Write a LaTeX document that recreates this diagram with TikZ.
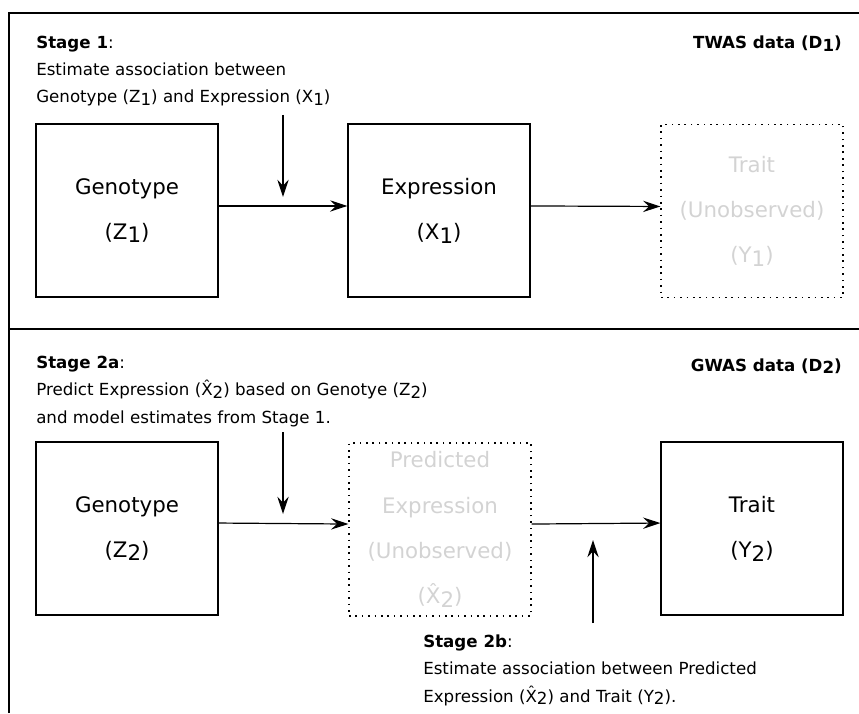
\documentclass[tikz,border=0pt]{standalone}
\usepackage{fontspec}
\setmainfont{DejaVu Sans}
\usetikzlibrary{arrows.meta, positioning}

\definecolor{unseen}{RGB}{211,211,211}
\newcommand{\lowsub}[1]{\raisebox{-0.3ex}{#1}}

\begin{document}
\begin{tikzpicture}[x=0.75pt, y=-0.75pt,
  box/.style = {draw, line width=0.9pt, inner sep=2pt, minimum width=136.5pt, minimum height=129.75pt,
                align=center, font=\fontsize{16}{34}\selectfont},
  hidden/.style = {box, dash pattern=on 1.2pt off 3.6pt, text=unseen},
  note/.style = {anchor=base west, inner sep=0pt, align=left, font=\fontsize{12.5}{20.6}\selectfont},
  link/.style = {line width=0.9pt, -{Stealth[length=13pt, width=8.5pt, inset=4.5pt]}}]

  \useasboundingbox (0,0) rectangle (859,713);

  % frame
  \draw[line width=0.9pt] (9,713) -- (9,13) -- (859,13);
  \draw[line width=0.9pt] (9,329) -- (859,329);

  % Stage 1 (anchored at the last line)
  \node[note] (stage1) at (36,103) {\textbf{Stage 1}:\\Estimate association between\\Genotype (Z\lowsub{1}) and Expression (X\lowsub{1})};
  \node[note, anchor=base east] (twas) at (842,49) {\textbf{TWAS data (D\lowsub{1})}};

  \node[box] (geno1) at (127,210.5) {Genotype\\(Z\lowsub{1})};
  \node[box] (expr1) at (439,210.5) {Expression\\(X\lowsub{1})};
  \node[hidden] (trait1) at (752,211) {Trait\\(Unobserved)\\(Y\lowsub{1})};

  \draw[link] ([yshift=3.4pt]geno1.east) -- ([yshift=3.4pt]expr1.west);
  \draw[link] ([yshift=3.4pt]expr1.east) -- ([yshift=3.4pt]trait1.west);

  \coordinate (cue1a) at (283,115);
  \coordinate (cue1b) at (283,197);
  \draw[link] (cue1a) -- (cue1b);

  % Stage 2
  \node[note] (stage2a) at (36,423) {\textbf{Stage 2a}:\\Predict Expression (\^{X}\lowsub{2}) based on Genotye (Z\lowsub{2})\\and model estimates from Stage 1.};
  \node[note, anchor=base east] (gwas) at (842,371) {\textbf{GWAS data (D\lowsub{2})}};

  \node[box] (geno2) at (127,528.5) {Genotype\\(Z\lowsub{2})};
  \node[hidden] (pred2) at (440,529.5) {Predicted\\Expression\\(Unobserved)\\(\^{X}\lowsub{2})};
  \node[box] (trait2) at (752,528.5) {Trait\\(Y\lowsub{2})};

  \draw[link] ([yshift=4.1pt]geno2.east) -- ([yshift=4.1pt]pred2.west);
  \draw[link] ([yshift=4.1pt]pred2.east) -- ([yshift=4.1pt]trait2.west);

  \coordinate (cue2a) at (283,432);
  \coordinate (cue2b) at (283,514);
  \draw[link] (cue2a) -- (cue2b);

  \coordinate (cue3a) at (593,623);
  \coordinate (cue3b) at (593,540);
  \draw[link] (cue3a) -- (cue3b);

  \node[note] (stage2b) at (423,702) {\textbf{Stage 2b}:\\Estimate association between Predicted\\Expression (\^{X}\lowsub{2}) and Trait (Y\lowsub{2}).};
\end{tikzpicture}
\end{document}
